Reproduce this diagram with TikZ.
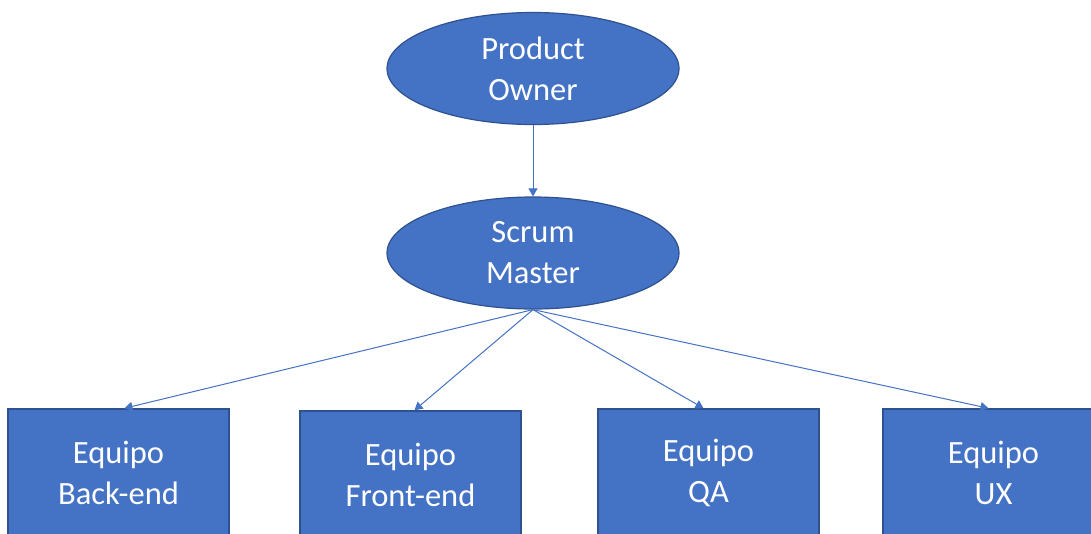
\documentclass[tikz,border=0pt]{standalone}
\usepackage{fontspec}
\setmainfont{Carlito}
\usetikzlibrary{shapes.geometric,arrows.meta}
\definecolor{fillblue}{HTML}{4472C4}
\definecolor{edgeblue}{HTML}{2F528F}
\tikzset{
  role/.style={ellipse, draw=edgeblue, line width=1.2pt, fill=fillblue,
    minimum width=292pt, minimum height=112pt, inner sep=0pt,
    text=white, align=center, font=\fontsize{32.5}{41}\selectfont},
  team/.style={rectangle, draw=edgeblue, line width=1.5pt, fill=fillblue,
    minimum width=221pt, minimum height=128pt, inner sep=0pt,
    text=white, align=center, font=\fontsize{32.5}{41}\selectfont},
  link/.style={draw=fillblue, line width=1pt,
    -{Triangle[length=8pt,width=9pt]}}
}
\begin{document}
\begin{tikzpicture}[x=1pt,y=-1pt]
  \useasboundingbox (0,0) rectangle (1091,533);
  \clip (0,0) rectangle (1091,533);
  \fill[white] (0,0) rectangle (1091,533);

  \node[role] (po) at (533,68.5) {Product\\Owner};
  \node[role] (sm) at (533,253) {Scrum\\Master};

  \node[team] (be) at (118.5,473) {Equipo\\Back-end};
  \node[team] (fe) at (410.5,475) {Equipo\\Front-end};
  \node[team] (qa) at (708.5,473) {Equipo\\QA};
  \node[team] (ux) at (993.5,473) {Equipo\\UX};

  \draw[link] (po.south) -- (sm.north);
  \draw[link] (sm.south) -- ([xshift=6pt]be.north);
  \draw[link] (sm.south) -- ([xshift=4pt]fe.north);
  \draw[link] (sm.south) -- ([xshift=-5pt]qa.north);
  \draw[link] (sm.south) -- ([xshift=-5pt]ux.north);
\end{tikzpicture}
\end{document}
